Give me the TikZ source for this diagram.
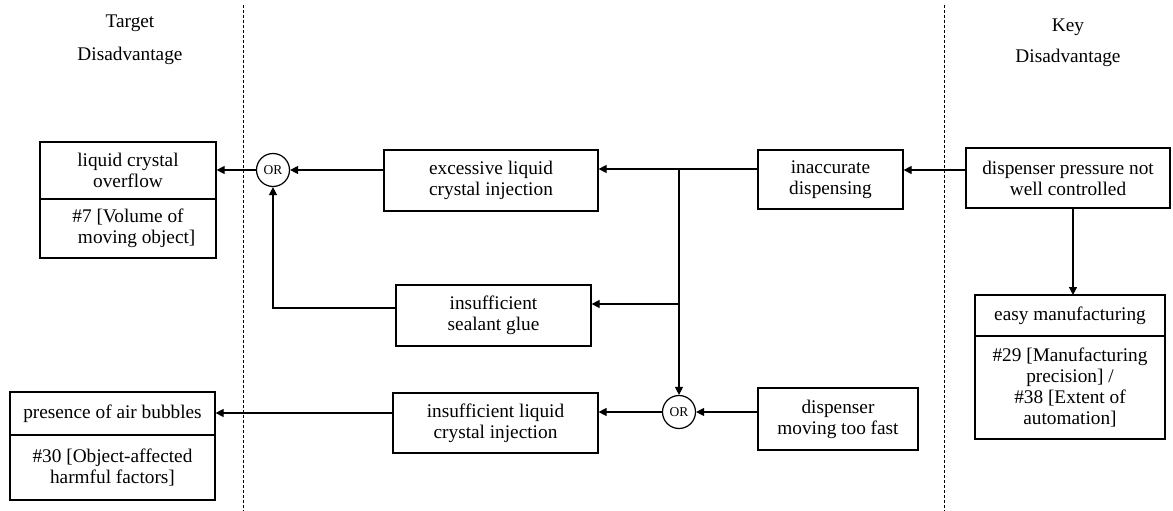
\documentclass[tikz,border=0pt]{standalone}
\usepackage{fontspec}
\setmainfont{Liberation Serif}
\usetikzlibrary{arrows.meta}
\begin{document}
\begin{tikzpicture}[x=1pt,y=-1pt,
  box/.style={draw, line width=1.2pt, inner sep=0pt, align=center,
    font=\fontsize{19.3}{21}\selectfont},
  orgate/.style={draw, circle, line width=1.2pt, minimum size=33pt, inner sep=0pt,
    font=\fontsize{13.5}{13.5}\selectfont},
  arr/.style={line width=1.2pt, -{Triangle[length=8pt,width=8pt]}},
  ln/.style={line width=1.2pt},
  sep/.style={line width=0.8pt, dash pattern=on 3pt off 2pt},
  head/.style={font=\fontsize{19.3}{21}\selectfont}
]
\useasboundingbox (0,0) rectangle (1173,511);
\fill[white] (0,0) rectangle (1173,511);

% separators
\coordinate (d1t) at (243,5);
\coordinate (d1b) at (243,511);
\coordinate (d2t) at (944,5);
\coordinate (d2b) at (944,511);
\draw[sep] (d1t) -- (d1b);
\draw[sep] (d2t) -- (d2b);

% headers
\node[head] (ht1) at (130,23) {Target};
\node[head] (ht2) at (130,56) {Disadvantage};
\node[head] (hk1) at (1068,27) {Key};
\node[head] (hk2) at (1068,58) {Disadvantage};

% boxes
\node[box, minimum width=176pt, minimum height=57pt] (lco) at (128,170.5) {liquid crystal\\overflow};
\node[box, minimum width=176pt, minimum height=59pt] (lcob) at (128,228.5) {\#7 [Volume of\\\hspace*{0.9em}moving object]};

\node[box, minimum width=214pt, minimum height=61pt] (exc) at (491,180.5) {excessive liquid\\crystal injection};
\node[box, minimum width=195pt, minimum height=61pt] (sea) at (493.5,315.5) {insufficient\\sealant glue};
\node[box, minimum width=205pt, minimum height=60pt] (insl) at (495.5,423) {insufficient liquid\\crystal injection};

\node[box, minimum width=205pt, minimum height=43pt] (pab) at (112.5,413.5) {presence of air bubbles};
\node[box, minimum width=205pt, minimum height=65pt] (pabb) at (112.5,467.5) {\#30 [Object-affected\\harmful factors]};

\node[box, minimum width=145pt, minimum height=59pt] (inacc) at (830.5,179.5) {inaccurate\\dispensing};
\node[box, minimum width=204pt, minimum height=60pt] (dpn) at (1068,178) {dispenser pressure not\\well controlled};
\node[box, minimum width=160pt, minimum height=62pt] (dmtf) at (838,419) {dispenser\\moving too fast};

\node[box, minimum width=190pt, minimum height=41pt] (easy) at (1070,315.5) {easy manufacturing};
\node[box, minimum width=190pt, minimum height=103pt] (easyb) at (1070,387.5) {\#29 [Manufacturing\\precision] /\\\#38 [Extent of\\automation]};

% OR gates
\node[orgate] (or1) at (273,170) {OR};
\node[orgate] (or2) at (679,412) {OR};

% junction points
\coordinate (j1) at (679,169);
\coordinate (j2) at (679,304);
\coordinate (e1) at (384,170);
\coordinate (s1) at (396,308);
\coordinate (c1) at (273,308);
\coordinate (p1) at (966,170);
\coordinate (q1) at (393,413);
\coordinate (t1) at (1073,208);
\coordinate (t2) at (1073,295);

% connectors
\draw[arr] (p1) -- (inacc.east |- p1);
\draw[ln] (inacc.west |- j1) -- (j1);
\draw[arr] (j1) -- (exc.east |- j1);
\draw[arr] (j2) -- (sea.east |- j2);
\draw[arr] (j1) -- (or2.north);
\draw[arr] (e1) -- (or1.east);
\draw[arr] (or1.west) -- (lco.east |- or1);
\draw[arr] (s1) -- (c1) -- (or1.south);
\draw[arr] (dmtf.west |- or2) -- (or2.east);
\draw[arr] (or2.west) -- (insl.east |- or2);
\draw[arr] (q1) -- (pab.east |- q1);
\draw[arr] (t1) -- (t2);
\end{tikzpicture}
\end{document}
